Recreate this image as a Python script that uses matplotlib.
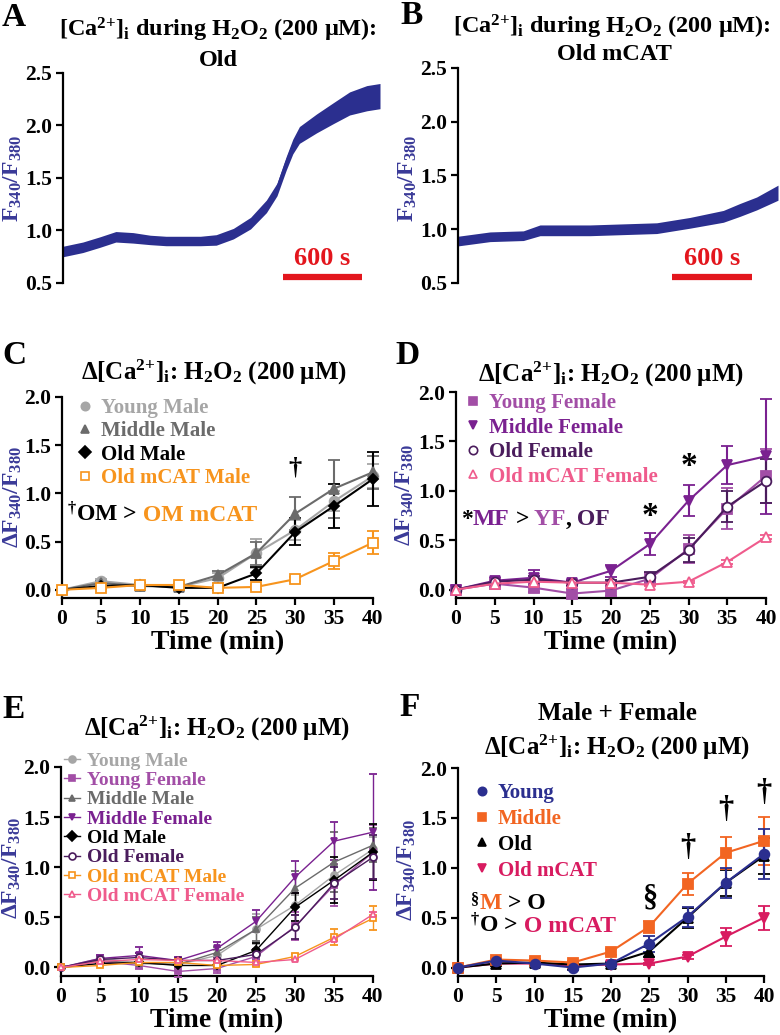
import matplotlib
matplotlib.use('Agg')
import matplotlib.pyplot as plt
from matplotlib.lines import Line2D

plt.rcParams['font.family'] = ['Liberation Serif', 'DejaVu Serif']
plt.rcParams['font.weight'] = 'bold'
plt.rcParams['axes.labelweight'] = 'bold'
plt.rcParams['mathtext.fontset'] = 'custom'
plt.rcParams['mathtext.rm'] = 'Liberation Serif:bold'
plt.rcParams['mathtext.it'] = 'Liberation Serif:bold'
plt.rcParams['mathtext.bf'] = 'Liberation Serif:bold'
plt.rcParams['mathtext.default'] = 'rm'

W, H = 780, 1035

# ---- data ----
# raw traces (A: Old, B: Old mCAT), time in s, F340/F380 ratio + half width of noise band
a_time = [0, 150, 280, 400, 530, 660, 780, 900, 1040, 1160, 1290, 1420, 1540, 1620,
          1690, 1740, 1790, 1920, 2050, 2170, 2300, 2400]
a_ratio = [0.80, 0.84, 0.89, 0.94, 0.93, 0.91, 0.90, 0.90, 0.90, 0.91, 0.97, 1.07, 1.23,
           1.39, 1.64, 1.80, 1.91, 2.02, 2.12, 2.21, 2.26, 2.28]
a_spread = [0.05, 0.05, 0.05, 0.05, 0.05, 0.045, 0.045, 0.045, 0.045, 0.05, 0.05, 0.055,
            0.06, 0.06, 0.065, 0.07, 0.08, 0.09, 0.10, 0.11, 0.12, 0.12]
b_time = [0, 240, 490, 615, 740, 990, 1240, 1490, 1740, 1990, 2115, 2240, 2400]
b_ratio = [0.89, 0.93, 0.94, 0.99, 0.99, 0.99, 1.00, 1.01, 1.06, 1.12, 1.18, 1.24, 1.34]
b_spread = [0.045, 0.045, 0.045, 0.05, 0.05, 0.05, 0.05, 0.05, 0.05, 0.055, 0.06, 0.06, 0.07]

minutes = [0, 5, 10, 15, 20, 25, 30, 35, 40]

young_m = [0, 0.09, 0.05, 0.03, 0.12, 0.38, 0.62, 0.92, 1.18]
young_m_err = [0, 0.02, 0.02, 0.02, 0.05, 0.15, 0.10, 0.10, 0.12]
middle_m = [0, 0.07, 0.04, 0.03, 0.15, 0.38, 0.79, 1.05, 1.22]
middle_m_err = [0, 0.02, 0.02, 0.02, 0.05, 0.12, 0.17, 0.30, 0.17]
old_m = [0, 0.04, 0.05, 0.02, 0.02, 0.17, 0.60, 0.87, 1.15]
old_m_err = [0, 0.02, 0.02, 0.02, 0.02, 0.07, 0.14, 0.23, 0.28]
mcat_m = [0, 0.02, 0.05, 0.05, 0.02, 0.03, 0.11, 0.30, 0.49]
mcat_m_err = [0, 0.01, 0.01, 0.01, 0.01, 0.02, 0.02, 0.08, 0.12]

young_f = [0, 0.06, 0.02, -0.04, -0.01, 0.11, 0.41, 0.82, 1.15]
young_f_err = [0, 0.02, 0.04, 0.05, 0.05, 0.06, 0.14, 0.21, 0.27]
middle_f = [0, 0.09, 0.12, 0.07, 0.19, 0.46, 0.90, 1.26, 1.35]
middle_f_err = [0, 0.03, 0.08, 0.03, 0.06, 0.11, 0.16, 0.19, 0.58]
old_f = [0, 0.08, 0.10, 0.07, 0.07, 0.13, 0.40, 0.84, 1.10]
old_f_err = [0, 0.02, 0.04, 0.02, 0.03, 0.05, 0.12, 0.16, 0.22]
mcat_f = [0, 0.06, 0.08, 0.07, 0.07, 0.05, 0.08, 0.28, 0.53]
mcat_f_err = [0, 0.01, 0.01, 0.01, 0.01, 0.01, 0.01, 0.02, 0.02]

young = [0, 0.07, 0.04, 0.00, 0.04, 0.24, 0.51, 0.85, 1.14]
young_err = [0, 0.02, 0.02, 0.02, 0.02, 0.08, 0.10, 0.15, 0.25]
middle = [0, 0.08, 0.07, 0.05, 0.16, 0.41, 0.84, 1.15, 1.27]
middle_err = [0, 0.02, 0.02, 0.02, 0.03, 0.06, 0.11, 0.16, 0.24]
old = [0, 0.04, 0.05, 0.03, 0.04, 0.16, 0.50, 0.85, 1.12]
old_err = [0, 0.02, 0.02, 0.02, 0.02, 0.05, 0.10, 0.13, 0.18]
mcat = [0, 0.04, 0.04, 0.02, 0.03, 0.04, 0.11, 0.31, 0.50]
mcat_err = [0, 0.01, 0.01, 0.01, 0.01, 0.01, 0.02, 0.09, 0.12]

# colours
NAVY = '#2b2f8f'
LABEL_BLUE = '#3a3a98'
RED = '#e3161d'
C_YM, C_MM, C_OM, C_CM = '#a6a6a6', '#6b6b6b', '#000000', '#f7941d'
C_YF, C_MF, C_OF, C_CF = '#a24ea6', '#7a2190', '#4a1c5c', '#ef5b8c'
C_Y, C_M, C_O, C_C = '#2b2f8f', '#f26522', '#000000', '#d81b60'

male = [('Young Male', young_m, young_m_err, C_YM, 'o', True),
        ('Middle Male', middle_m, middle_m_err, C_MM, '^', True),
        ('Old Male', old_m, old_m_err, C_OM, 'D', True),
        ('Old mCAT Male', mcat_m, mcat_m_err, C_CM, 's', False)]
female = [('Young Female', young_f, young_f_err, C_YF, 's', True),
          ('Middle Female', middle_f, middle_f_err, C_MF, 'v', True),
          ('Old Female', old_f, old_f_err, C_OF, 'o', False),
          ('Old mCAT Female', mcat_f, mcat_f_err, C_CF, '^', False)]
pooled = [('Young', young, young_err, C_Y, 'o', True),
          ('Middle', middle, middle_err, C_M, 's', True),
          ('Old', old, old_err, C_O, '^', True),
          ('Old mCAT', mcat, mcat_err, C_C, 'v', True)]

CA = '[Ca$^{2{+}}$]$_{i}$'
TITLE = 'Δ' + CA + ': H$_{2}$O$_{2}$ (200 μM)'
TITLE_AB = CA + ' during H$_{2}$O$_{2}$ (200 μM):'
YLAB = 'ΔF$_{340}$/F$_{380}$'

fig = plt.figure(figsize=(W / 100, H / 100), dpi=100)


def add_ax(left, top, right, bottom):
    return fig.add_axes([left / W, 1 - bottom / H, (right - left) / W, (bottom - top) / H])


def ftext(x, y, s, **kw):
    return fig.text(x / W, 1 - y / H, s, **kw)


def style(ax):
    for side in ['top', 'right']:
        ax.spines[side].set_visible(False)
    for side in ['left', 'bottom']:
        ax.spines[side].set_linewidth(1.6)
    ax.tick_params(direction='out', length=5, width=1.6, labelsize=15.5, pad=3)


def trace_panel(ax, t, r, s):
    lo = [v - d for v, d in zip(r, s)]
    hi = [v + d for v, d in zip(r, s)]
    ax.fill_between(t, lo, hi, color=NAVY, lw=0)
    ax.plot(t, r, color=NAVY, lw=2)
    ax.set_xlim(0, 2400)
    ax.set_ylim(0.5, 2.5)
    style(ax)
    ax.spines['bottom'].set_visible(False)
    ax.set_xticks([])
    ax.set_yticks([0.5, 1.0, 1.5, 2.0, 2.5])
    ax.set_yticklabels(['0.5', '1.0', '1.5', '2.0', '2.5'])


def group_panel(ax, groups, lw=1.5, ms=7, cap=4):
    for name, y, e, c, m, filled in groups:
        size = ms * 0.8 if m == 'D' else ms
        ax.errorbar(minutes, y, yerr=e, color=c, marker=m, ms=size, lw=lw,
                    mfc=c if filled else 'white', mec=c, mew=1.3,
                    capsize=cap, capthick=lw, elinewidth=lw, clip_on=False, zorder=3)
    ax.set_xlim(0, 40)
    ax.set_ylim(-0.085, 2.0)
    style(ax)
    ax.set_xticks(minutes)
    ax.set_yticks([0, 0.5, 1.0, 1.5, 2.0])
    ax.set_yticklabels(['0.0', '0.5', '1.0', '1.5', '2.0'])
    ax.set_xlabel('Time (min)', fontsize=20, labelpad=1)


def legend(ax, groups, x, y, size, spacing, hl=0.7, lw=0, ms=6):
    handles = [Line2D([], [], color=c, marker=m, ms=ms, lw=lw,
                      mfc=c if f else 'white', mec=c, mew=1.2)
               for _, _, _, c, m, f in groups]
    ax.legend(handles, [g[0] for g in groups], loc='upper left',
              bbox_to_anchor=(x / W, 1 - y / H), bbox_transform=fig.transFigure,
              frameon=False, fontsize=size, labelspacing=spacing,
              handlelength=hl, handletextpad=0.4, borderpad=0, borderaxespad=0,
              labelcolor=[g[3] for g in groups])


def multi_text(ax, x, y, parts, size):
    prev = None
    for s, c in parts:
        if prev is None:
            prev = ax.annotate(s, xy=(x / W, 1 - y / H), xycoords='figure fraction',
                               va='bottom', ha='left', color=c, fontsize=size)
        else:
            prev = ax.annotate(s, xy=(1, 0), xycoords=prev,
                               va='bottom', ha='left', color=c, fontsize=size)


# ---- A ----
axA = add_ax(63, 73, 380, 283)
trace_panel(axA, a_time, a_ratio, a_spread)
axA.plot([1665, 2265], [0.56, 0.56], color=RED, lw=4.5, solid_capstyle='butt')
axA.text(1965, 0.62, '600 s', color=RED, fontsize=19, ha='center', va='bottom')
ftext(218, 30, TITLE_AB, fontsize=17.5, ha='center', va='center')
ftext(218, 60, 'Old', fontsize=17.5, ha='center', va='center')
ftext(13, 178, 'F$_{340}$/F$_{380}$', fontsize=17, color=LABEL_BLUE, rotation=90, ha='center', va='center')
ftext(2, 17, 'A', fontsize=24, va='center')

# ---- B ----
axB = add_ax(458, 68, 778, 283)
trace_panel(axB, b_time, b_ratio, b_spread)
axB.plot([1605, 2205], [0.556, 0.556], color=RED, lw=4.5, solid_capstyle='butt')
axB.text(1905, 0.62, '600 s', color=RED, fontsize=19, ha='center', va='bottom')
ftext(612, 27, TITLE_AB, fontsize=17.5, ha='center', va='center')
ftext(614, 55, 'Old mCAT', fontsize=17.5, ha='center', va='center')
ftext(408, 178, 'F$_{340}$/F$_{380}$', fontsize=17, color=LABEL_BLUE, rotation=90, ha='center', va='center')
ftext(400, 15, 'B', fontsize=24, va='center')

# ---- C ----
axC = add_ax(62, 397, 373, 598)
group_panel(axC, male)
legend(axC, male, 78, 398, 15, 0.16)
axC.text(30, 1.26, '†', fontsize=19, ha='center', va='center')
multi_text(axC, 67, 526, [('$^{†}$OM >', 'black'), (' OM mCAT', C_CM)], 17)
ftext(214, 372, TITLE, fontsize=18, ha='center', va='center')
ftext(13, 497, YLAB, fontsize=17, color=LABEL_BLUE, rotation=90, ha='center', va='center')
ftext(2, 355, 'C', fontsize=24, va='center')

# ---- D ----
axD = add_ax(456, 392, 766, 598)
group_panel(axD, female)
legend(axD, female, 466, 393, 15, 0.22)
axD.text(25, 0.74, '*', fontsize=24, ha='center', va='center')
axD.text(30, 1.25, '*', fontsize=24, ha='center', va='center')
multi_text(axD, 461, 530, [('*', 'black'), ('MF', C_MF), (' >', 'black'), (' YF', C_YF),
                           (',', 'black'), (' OF', C_OF)], 17)
ftext(611, 374, TITLE, fontsize=18, ha='center', va='center')
ftext(405, 495, YLAB, fontsize=17, color=LABEL_BLUE, rotation=90, ha='center', va='center')
ftext(395, 355, 'D', fontsize=24, va='center')

# ---- E ----
axE = add_ax(61, 767, 373, 976)
combined = [male[0], female[0], male[1], female[1], male[2], female[2], male[3], female[3]]
group_panel(axE, combined, lw=1.0, ms=5, cap=3)
legend(axE, combined, 64, 752, 14, 0.09, hl=0.8, lw=1.0, ms=5)
ftext(217, 728, TITLE, fontsize=18, ha='center', va='center')
ftext(12, 868, YLAB, fontsize=17, color=LABEL_BLUE, rotation=90, ha='center', va='center')
ftext(2, 710, 'E', fontsize=24, va='center')

# ---- F ----
axF = add_ax(458, 768, 764, 976)
group_panel(axF, pooled[::-1])
legend(axF, pooled, 475, 783, 15, 0.28)
axF.text(25, 0.70, '§', fontsize=22, ha='center', va='center')
axF.text(30, 1.20, '†', fontsize=22, ha='center', va='center')
axF.text(35, 1.58, '†', fontsize=22, ha='center', va='center')
axF.text(40, 1.75, '†', fontsize=22, ha='center', va='center')
multi_text(axF, 470, 914, [('$^{§}$', 'black'), ('M', C_M), (' > O', 'black')], 17)
multi_text(axF, 470, 937, [('$^{†}$O >', 'black'), (' O mCAT', C_C)], 17)
ftext(617, 713, 'Male + Female', fontsize=18, ha='center', va='center')
ftext(617, 747, TITLE, fontsize=18, ha='center', va='center')
ftext(407, 870, YLAB, fontsize=17, color=LABEL_BLUE, rotation=90, ha='center', va='center')
ftext(399, 708, 'F', fontsize=24, va='center')

fig.savefig('out.png', dpi=100)
